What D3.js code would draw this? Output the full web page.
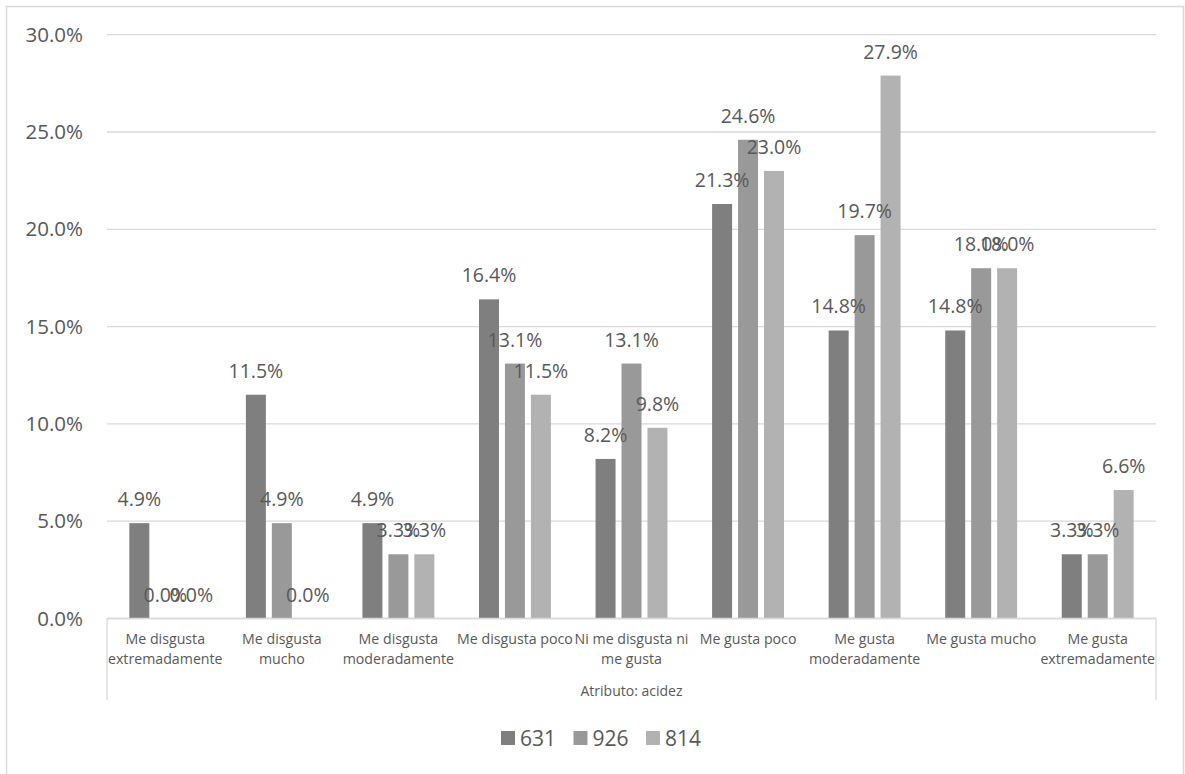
<!DOCTYPE html>
<html>
<head>
<meta charset="utf-8">
<script src="https://cdn.jsdelivr.net/npm/d3@7"></script>
<style>
  body { margin: 0; background: #fff; }
  text { font-family: "Open Sans", sans-serif; fill: #595959; }
</style>
</head>
<body>
<div id="chart"></div>
<script>
// data
const categories = [
  "Me disgusta extremadamente",
  "Me disgusta mucho",
  "Me disgusta moderadamente",
  "Me disgusta poco",
  "Ni me disgusta ni me gusta",
  "Me gusta poco",
  "Me gusta moderadamente",
  "Me gusta mucho",
  "Me gusta extremadamente"
];
const seriesNames = ["631", "926", "814"];
const values631 = [4.9, 11.5, 4.9, 16.4, 8.2, 21.3, 14.8, 14.8, 3.3];
const values926 = [0.0, 4.9, 3.3, 13.1, 13.1, 24.6, 19.7, 18.0, 3.3];
const values814 = [0.0, 0.0, 3.3, 11.5, 9.8, 23.0, 27.9, 18.0, 6.6];
const yTicks = [0, 5, 10, 15, 20, 25, 30];
const groupLabel = "Atributo: acidez";

const colors = { "631": "#7f7f7f", "926": "#999999", "814": "#b2b2b2" };
const seriesValues = { "631": values631, "926": values926, "814": values814 };

const width = 1185, height = 774;
const plot = { left: 107, right: 1156, top: 34.7, bottom: 618.5 };

const svg = d3.select("#chart").append("svg")
  .attr("width", width).attr("height", height);

// chart border
svg.append("rect")
  .attr("x", 6.5).attr("y", 6.5)
  .attr("width", 1177).attr("height", 790)
  .attr("fill", "#fff").attr("stroke", "#d9d9d9").attr("stroke-width", 1.5);

// scales
const x0 = d3.scaleBand().domain(categories).range([plot.left, plot.right]);
const x1 = d3.scaleBand().domain(seriesNames).range([0, x0.bandwidth()])
  .paddingInner(0.23).paddingOuter(0.86);
const y = d3.scaleLinear().domain([0, 30]).range([plot.bottom, plot.top]);

// gridlines
svg.append("g")
  .selectAll("line")
  .data(yTicks)
  .join("line")
  .attr("x1", plot.left).attr("x2", plot.right)
  .attr("y1", (d) => y(d)).attr("y2", (d) => y(d))
  .attr("stroke", "#d9d9d9").attr("stroke-width", 1.3);

// y axis labels
const yAxis = d3.axisLeft(y).tickValues(yTicks)
  .tickFormat((d) => d.toFixed(1) + "%").tickSize(0).tickPadding(24);
svg.append("g")
  .attr("transform", `translate(${plot.left},0)`)
  .call(yAxis)
  .call((g) => g.select(".domain").remove())
  .call((g) => g.selectAll("text")
    .style("font-family", "'Open Sans', sans-serif")
    .style("font-size", "20.5px").attr("fill", "#595959"));

// bars
const rows = [];
seriesNames.forEach((s) => {
  seriesValues[s].forEach((v, i) => rows.push({ s, cat: categories[i], v }));
});

svg.append("g")
  .selectAll("rect")
  .data(rows)
  .join("rect")
  .attr("x", (d) => x0(d.cat) + x1(d.s))
  .attr("y", (d) => y(d.v))
  .attr("width", x1.bandwidth())
  .attr("height", (d) => y(0) - y(d.v))
  .attr("fill", (d) => colors[d.s]);

// data labels
svg.append("g")
  .selectAll("text")
  .data(rows)
  .join("text")
  .attr("x", (d) => x0(d.cat) + x1(d.s) + x1.bandwidth() / 2)
  .attr("y", (d) => y(d.v) - 17)
  .attr("text-anchor", "middle")
  .style("font-size", "19.5px")
  .attr("fill", "#404040")
  .text((d) => d.v.toFixed(1) + "%");

// category axis
const axisG = svg.append("g");
axisG.append("line")
  .attr("x1", plot.left).attr("x2", plot.right)
  .attr("y1", y(0)).attr("y2", y(0))
  .attr("stroke", "#d9d9d9").attr("stroke-width", 1.3);
[plot.left, plot.right].forEach((xx) => {
  axisG.append("line")
    .attr("x1", xx).attr("x2", xx)
    .attr("y1", y(0)).attr("y2", 700)
    .attr("stroke", "#d9d9d9").attr("stroke-width", 1.3);
});

// wrap category labels to the band width
categories.forEach((c) => {
  const t = axisG.append("text")
    .attr("text-anchor", "middle")
    .style("font-size", "14.2px")
    .attr("x", x0(c) + x0.bandwidth() / 2);
  const words = c.split(" ");
  let lines = [];
  let line = [];
  const probe = t.append("tspan");
  words.forEach((w) => {
    line.push(w);
    probe.text(line.join(" "));
    if (probe.node().getComputedTextLength() > x0.bandwidth() + 4 && line.length > 1) {
      line.pop();
      lines.push(line.join(" "));
      line = [w];
    }
  });
  lines.push(line.join(" "));
  probe.remove();
  lines.forEach((l, i) => {
    t.append("tspan")
      .attr("x", x0(c) + x0.bandwidth() / 2)
      .attr("y", 644 + i * 20)
      .text(l);
  });
});

axisG.append("text")
  .attr("x", (plot.left + plot.right) / 2)
  .attr("y", 696)
  .attr("text-anchor", "middle")
  .style("font-size", "14px")
  .text(groupLabel);

// legend
const legend = svg.append("g").attr("transform", "translate(501,731)");
const legendStep = 72.5;
seriesNames.forEach((s, i) => {
  const g = legend.append("g").attr("transform", `translate(${i * legendStep},0)`);
  g.append("rect").attr("width", 14).attr("height", 14).attr("fill", colors[s]);
  g.append("text")
    .attr("x", 19).attr("y", 14.5)
    .style("font-size", "21px")
    .text(s);
});
</script>
</body>
</html>
